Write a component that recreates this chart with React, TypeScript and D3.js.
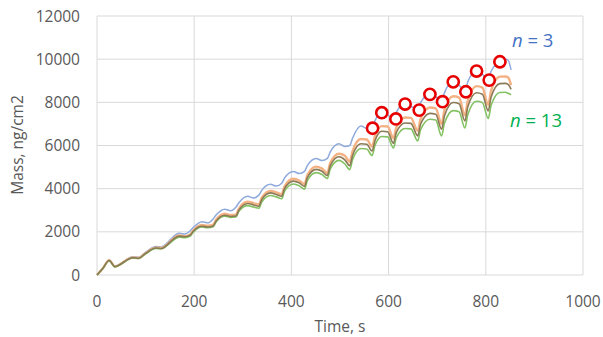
import React from 'react';
import * as d3 from 'd3';

// time samples, s
const times = [
  0, 12, 25, 37, 43, 74, 86,
  97, 103, 121, 133, 145, 151, 169, 181, 192, 198, 216, 228,
  239, 245, 263, 275, 286, 292, 310, 322, 333, 339, 357, 369,
  380, 386, 404, 416, 427, 433, 451, 463, 474, 480, 498, 510,
  520, 526, 543, 555, 566, 572, 586, 598, 610, 616, 634, 646,
  660, 666, 685, 697, 709, 715, 733, 745, 757, 763, 781, 793,
  805, 811, 829, 840, 846, 852,
];

// mass, ng/cm2
const massBlue = [
  0, 320, 690, 400, 450, 840, 820,
  1000, 1100, 1320, 1300, 1500, 1640, 1930, 1900, 2050, 2200, 2470, 2420,
  2600, 2780, 3050, 2980, 3150, 3350, 3650, 3570, 3700, 3920, 4200, 4120,
  4250, 4500, 4800, 4700, 4800, 5080, 5400, 5300, 5400, 5700, 6080, 5950,
  6000, 6350, 6900, 6800, 6800, 7150, 7520, 7420, 7230, 7550, 7920, 7820,
  7640, 8000, 8370, 8260, 8030, 8450, 8950, 8800, 8490, 8950, 9450, 9300,
  9030, 9450, 9880, 10000, 9950, 9500,
];
const massOrange = [
  0, 310, 680, 390, 440, 810, 790,
  960, 1060, 1270, 1250, 1430, 1560, 1830, 1800, 1880, 2060, 2320, 2280,
  2330, 2560, 2840, 2780, 2800, 3080, 3400, 3330, 3270, 3580, 3900, 3830,
  3740, 4110, 4460, 4380, 4210, 4640, 5020, 4930, 4730, 5200, 5620, 5530,
  5250, 5750, 6300, 6280, 5950, 6450, 6900, 6880, 6330, 6850, 7300, 7280,
  6680, 7250, 7760, 7720, 7000, 7650, 8280, 8220, 7400, 8080, 8750, 8680,
  7880, 8550, 9190, 9200, 9150, 8800,
];
const massDark = [
  0, 305, 670, 385, 433, 798, 778,
  946, 1044, 1251, 1231, 1409, 1537, 1803, 1773, 1852, 2029, 2262, 2223,
  2272, 2496, 2769, 2711, 2730, 3003, 3315, 3247, 3188, 3491, 3803, 3734,
  3647, 4007, 4349, 4271, 4105, 4524, 4895, 4807, 4612, 5070, 5480, 5336,
  5066, 5549, 6080, 6060, 5742, 6224, 6659, 6639, 6108, 6610, 7045, 7025,
  6446, 6996, 7488, 7450, 6755, 7382, 7990, 7932, 7141, 7797, 8444, 8376,
  7604, 8251, 8868, 8878, 8830, 8600,
];
const massGreen = [
  0, 300, 660, 378, 427, 786, 766,
  931, 1028, 1232, 1213, 1387, 1498, 1757, 1728, 1805, 1978, 2227, 2189,
  2237, 2458, 2726, 2669, 2688, 2957, 3213, 3147, 3090, 3383, 3686, 3619,
  3534, 3884, 4215, 4139, 3978, 4385, 4744, 4659, 4470, 4914, 5311, 5143,
  4883, 5348, 5859, 5840, 5534, 5999, 6417, 6398, 5887, 6371, 6789, 6770,
  6212, 6743, 7217, 7180, 6440, 7038, 7618, 7562, 6808, 7434, 8050, 7986,
  7250, 7866, 8455, 8464, 8418, 8350,
];

// measured points (red circles)
const markTimes = [567, 586, 615, 634, 663, 685, 711, 733, 759, 781, 807, 829];
const markMass = [6800, 7520, 7230, 7920, 7640, 8370, 8030, 8950, 8490, 9450, 9030, 9880];

const xTicks = [0, 200, 400, 600, 800, 1000];
const yTicks = [0, 2000, 4000, 6000, 8000, 10000, 12000];

const series = [
  { name: 'blue', values: massBlue, color: '#8faadc', width: 1.5 },
  { name: 'orange', values: massOrange, color: '#f4b183', width: 2.4 },
  { name: 'green', values: massGreen, color: '#84c163', width: 1.6 },
  { name: 'dark', values: massDark, color: '#8a7a55', width: 1.6 },
];

const W = 603;
const H = 337;
const font = "'Open Sans', 'Noto Sans', sans-serif";

export default function App() {
  const x = d3.scaleLinear().domain([0, 1000]).range([97, 583]);
  const y = d3.scaleLinear().domain([0, 12000]).range([275, 16]);

  const line = d3
    .line<number>()
    .x((d, i) => x(times[i]))
    .y((d) => y(d))
    .curve(d3.curveMonotoneX);

  return (
    <svg width={W} height={H} style={{ position: 'absolute', left: 0, top: 0, background: '#fff' }}>
      {/* grid */}
      {yTicks.map((t) => (
        <line key={'gy' + t} x1={x(0)} x2={x(1000)} y1={y(t)} y2={y(t)} stroke="#d9d9d9" strokeWidth={1} />
      ))}
      {xTicks.map((t) => (
        <line key={'gx' + t} x1={x(t)} x2={x(t)} y1={y(0)} y2={y(12000)} stroke="#d9d9d9" strokeWidth={1} />
      ))}

      {/* tick labels */}
      {yTicks.map((t) => (
        <text key={'ty' + t} x={80} y={y(t)} dy="0.36em" textAnchor="end" fontFamily={font} fontSize={15.5} fill="#595959">
          {t}
        </text>
      ))}
      {xTicks.map((t) => (
        <text key={'tx' + t} x={x(t)} y={307} textAnchor="middle" fontFamily={font} fontSize={15.5} fill="#595959">
          {t}
        </text>
      ))}

      {/* axis titles */}
      <text x={340} y={332} textAnchor="middle" fontFamily={font} fontSize={15.5} fill="#595959">
        Time, s
      </text>
      <text
        transform={`translate(23,145) rotate(-90)`}
        textAnchor="middle"
        fontFamily={font}
        fontSize={15.5}
        fill="#595959"
      >
        Mass, ng/cm2
      </text>

      {/* lines */}
      {series.map((s) => (
        <path key={s.name} d={line(s.values) || ''} fill="none" stroke={s.color} strokeWidth={s.width} />
      ))}

      {/* markers */}
      {markTimes.map((t, i) => (
        <circle key={'m' + i} cx={x(t)} cy={y(markMass[i])} r={5.6} fill="#fff" stroke="#e60000" strokeWidth={2.6} />
      ))}

      {/* labels */}
      <text x={512} y={47} fontFamily={font} fontSize={18.5} fill="#4472c4">
        <tspan fontStyle="italic">n</tspan> = 3
      </text>
      <text x={510} y={127} fontFamily={font} fontSize={18.5} fill="#00b050">
        <tspan fontStyle="italic">n</tspan> = 13
      </text>
    </svg>
  );
}
